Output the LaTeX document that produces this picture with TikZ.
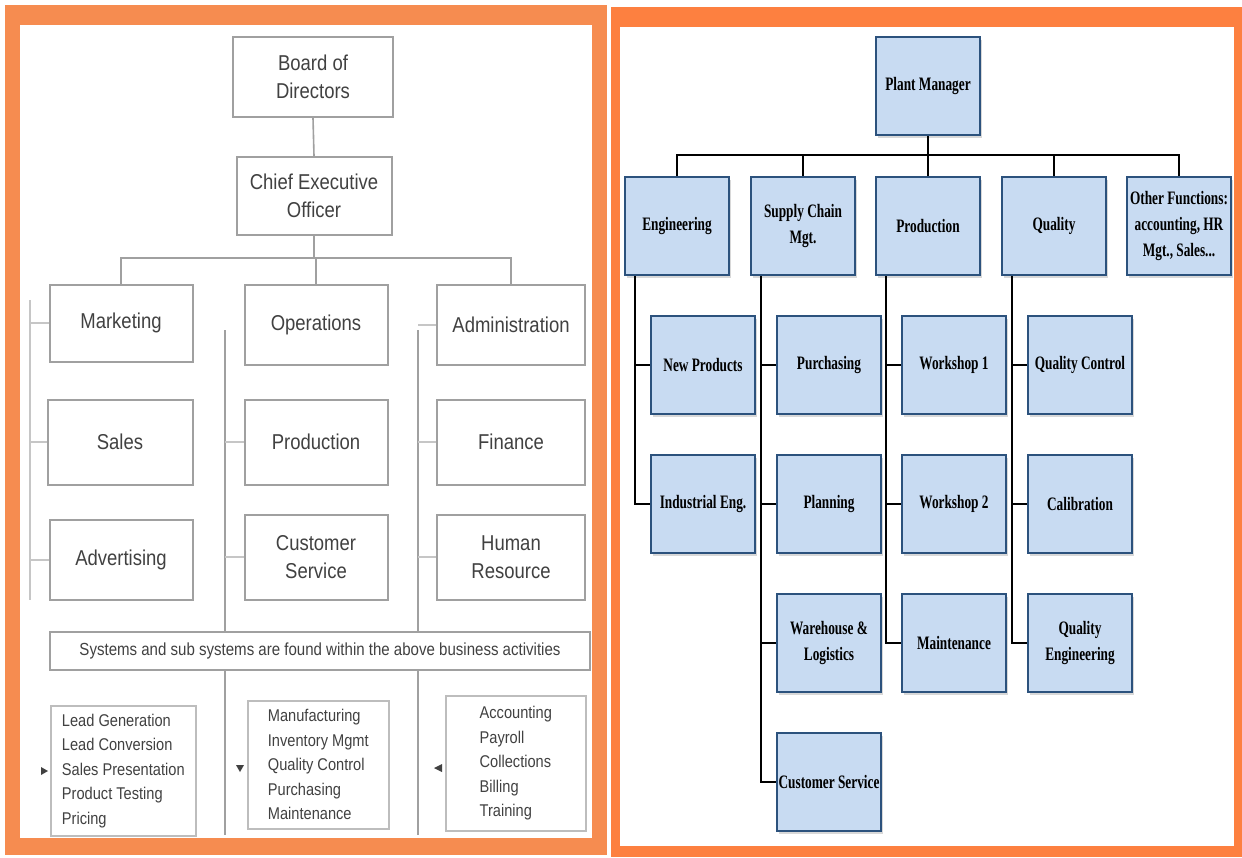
\documentclass[tikz,border=0pt]{standalone}
\usepackage{fontspec}
\setmainfont{Liberation Serif}
\newfontfamily\rfont[FakeStretch=0.7]{Liberation Serif}
\newfontfamily\lfont[FakeStretch=0.86]{Liberation Sans}
\usetikzlibrary{shadows}
\definecolor{orng}{RGB}{253,128,64}
\definecolor{lorng}{RGB}{246,140,80}
\definecolor{bfill}{RGB}{200,219,242}
\definecolor{bdraw}{RGB}{44,82,125}
\definecolor{lgray}{RGB}{160,160,160}
\definecolor{ltext}{RGB}{65,65,65}
\begin{document}
\begin{tikzpicture}[x=1pt,y=-1pt,
  rbox/.style={draw=bdraw,line width=2.2pt,fill=bfill,minimum width=104pt,minimum height=98pt,
    inner sep=1pt,align=center,font=\rfont\bfseries\fontsize{19}{26}\selectfont,
    drop shadow={shadow xshift=1.5pt,shadow yshift=-3pt,opacity=0.3}},
  conn/.style={line width=2.4pt,black},
  lbox/.style={draw=lgray,line width=2pt,fill=white,align=center,text=ltext,
    font=\lfont\fontsize{21.5}{28}\selectfont,inner sep=2pt},
  llist/.style={draw=lgray!70,line width=1.6pt,fill=white,align=left,text=ltext,
    font=\lfont\fontsize{17}{24.5}\selectfont,inner sep=8pt,anchor=north west},
  lline/.style={draw=lgray,line width=1.6pt},
  fline/.style={draw=lgray!60,line width=1.6pt}]
\useasboundingbox (0,0) rectangle (1242,857);
% frames
\fill[lorng] (5,5) rectangle (607,855);
\fill[white] (20,25) rectangle (592,838);
\fill[orng] (611,7) rectangle (1242,857);
\fill[white] (620,27) rectangle (1234,846);

% ---------- left panel ----------
\coordinate (lvA1) at (30,300);
\coordinate (lvA2) at (30,600);
\coordinate (lvB1) at (225,330);
\coordinate (lvB2) at (225,835);
\coordinate (lvC1) at (418,330);
\coordinate (lvC2) at (418,835);
\draw[fline] (lvA1) -- (lvA2);
\draw[lline] (lvB1) -- (lvB2);
\draw[lline] (lvC1) -- (lvC2);

\node[lbox,minimum width=160pt,minimum height=80pt] (bod) at (313,77) {Board of\\Directors};
\node[lbox,minimum width=155pt,minimum height=78pt] (ceo) at (314,196) {Chief Executive\\Officer};
\node[lbox,minimum width=143pt,minimum height=77pt] (mkt) at (121,323) {Marketing};
\node[lbox,minimum width=143pt,minimum height=80pt] (ops) at (316,325) {Operations};
\node[lbox,minimum width=148pt,minimum height=80pt] (adm) at (511,325) {Administration};
\node[lbox,minimum width=145pt,minimum height=85pt] (sal) at (120,442) {Sales};
\node[lbox,minimum width=143pt,minimum height=85pt] (prl) at (316,442) {Production};
\node[lbox,minimum width=148pt,minimum height=85pt] (fin) at (511,442) {Finance};
\node[lbox,minimum width=143pt,minimum height=80pt] (adv) at (121,560) {Advertising};
\node[lbox,minimum width=143pt,minimum height=85pt] (csl) at (316,557) {Customer\\Service};
\node[lbox,minimum width=148pt,minimum height=85pt] (hur) at (511,557) {Human\\Resource};

\draw[lline] (bod.south) -- (ceo.north);
\coordinate (lh) at (314,258);
\draw[lline] (ceo.south) -- (lh);
\draw[lline] (mkt.north) |- (lh);
\draw[lline] (adm.north) |- (lh);
\draw[lline] (ops.north) -- (ops.north |- lh);

\draw[fline] (mkt.west) -- (mkt.west -| lvA1);
\draw[fline] (sal.west) -- (sal.west -| lvA1);
\draw[fline] (adv.west) -- (adv.west -| lvA1);
\draw[fline] (prl.west) -- (prl.west -| lvB1);
\draw[fline] (csl.west) -- (csl.west -| lvB1);
\draw[fline] (adm.west) -- (adm.west -| lvC1);
\draw[fline] (fin.west) -- (fin.west -| lvC1);
\draw[fline] (hur.west) -- (hur.west -| lvC1);

\node[draw=lgray,line width=1.6pt,fill=white,minimum width=540pt,minimum height=38pt,text=ltext,
  font=\lfont\fontsize{17.5}{20}\selectfont] (sys) at (320,651)
  {Systems and sub systems are found within the above business activities};

\node[llist,minimum width=145pt,minimum height=130pt] (la) at (50,705)
  {Lead Generation\\Lead Conversion\\Sales Presentation\\Product Testing\\Pricing};
\node[llist,minimum width=141pt,minimum height=128pt] (lb) at (247,700)
  {Manufacturing\\Inventory Mgmt\\Quality Control\\Purchasing\\Maintenance};
\node[llist,minimum width=140pt,minimum height=135pt] (lc) at (445,695)
  {Accounting\\Payroll\\Collections\\Billing\\Training};

\fill[ltext] (41,767) -- (48,771) -- (41,775) -- cycle;
\fill[ltext] (236,765) -- (244,765) -- (240,772) -- cycle;
\fill[ltext] (442,764) -- (434,768) -- (442,772) -- cycle;

% ---------- right panel ----------
\node[rbox] (pm) at (928,86) {Plant Manager};
\node[rbox] (eng) at (677,226) {Engineering};
\node[rbox] (scm) at (803,226) {Supply Chain\\Mgt.};
\node[rbox] (prd) at (928,226) {Production};
\node[rbox] (qua) at (1054,226) {Quality};
\node[rbox] (oth) at (1179,226) {Other Functions:\\accounting, HR\\Mgt., Sales...};

\node[rbox] (np) at (703,365) {New Products};
\node[rbox] (ie) at (703,504) {Industrial Eng.};
\node[rbox] (pur) at (829,365) {Purchasing};
\node[rbox] (pla) at (829,504) {Planning};
\node[rbox] (whl) at (829,643) {Warehouse \&\\Logistics};
\node[rbox] (cus) at (829,782) {Customer Service};
\node[rbox] (ws1) at (954,365) {Workshop 1};
\node[rbox] (ws2) at (954,504) {Workshop 2};
\node[rbox] (mnt) at (954,643) {Maintenance};
\node[rbox] (qc) at (1080,365) {Quality Control};
\node[rbox] (cal) at (1080,504) {Calibration};
\node[rbox] (qe) at (1080,643) {Quality\\Engineering};

\coordinate (rh) at (928,155);
\draw[conn] (pm.south) -- (rh);
\draw[conn] (eng.north) |- (rh);
\draw[conn] (oth.north) |- (rh);
\draw[conn] (scm.north) -- (scm.north |- rh);
\draw[conn] (prd.north) -- (prd.north |- rh);
\draw[conn] (qua.north) -- (qua.north |- rh);

\draw[conn] (eng.south west) ++(11,0) |- (np.west);
\draw[conn] (eng.south west) ++(11,0) |- (ie.west);
\draw[conn] (scm.south west) ++(11,0) |- (pur.west);
\draw[conn] (scm.south west) ++(11,0) |- (pla.west);
\draw[conn] (scm.south west) ++(11,0) |- (whl.west);
\draw[conn] (scm.south west) ++(11,0) |- (cus.west);
\draw[conn] (prd.south west) ++(11,0) |- (ws1.west);
\draw[conn] (prd.south west) ++(11,0) |- (ws2.west);
\draw[conn] (prd.south west) ++(11,0) |- (mnt.west);
\draw[conn] (qua.south west) ++(11,0) |- (qc.west);
\draw[conn] (qua.south west) ++(11,0) |- (cal.west);
\draw[conn] (qua.south west) ++(11,0) |- (qe.west);
\end{tikzpicture}
\end{document}
